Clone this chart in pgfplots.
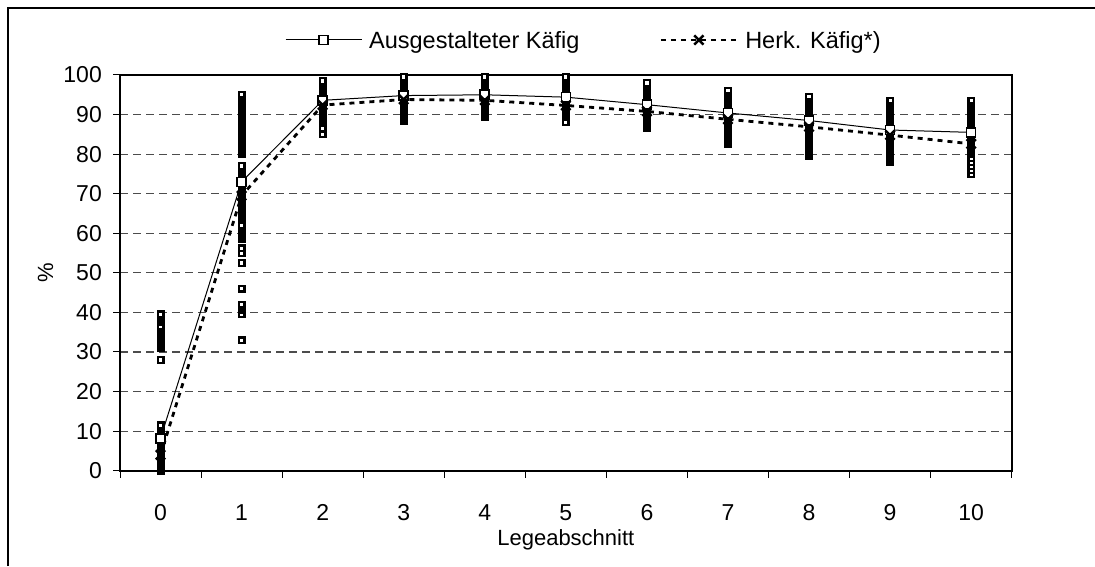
\documentclass[border=0pt]{standalone}
\usepackage{fontspec}
\setmainfont{Liberation Sans}
\usepackage{pgfplots}
\pgfplotsset{compat=1.18}
\newcommand{\chartfont}{\fontsize{22}{26}\selectfont}
\newcommand{\tickfont}{\fontsize{23}{27}\selectfont}
\newcommand{\legendfont}{\fontsize{23.5}{27}\selectfont}
\begin{document}
\begin{tikzpicture}[x=1pt,y=1pt,font=\chartfont]
\useasboundingbox (0,0) rectangle (1095,566);
% outer chart frame
\draw[line width=2pt] (8,0) -- (8,558) -- (1095,558);
\begin{axis}[
  at={(120pt,95.3pt)}, anchor=south west,
  scale only axis, width=891.7pt, height=395.7pt,
  xmin=-0.5, xmax=10.5, ymin=0, ymax=100,
  clip=false,
  axis line style={line width=2.2pt},
  xtick={0,...,10},
  minor xtick={-0.5,0.5,...,10.5},
  major x tick style={draw=none},
  ytick={0,10,...,100},
  xtick pos=bottom, ytick pos=left,
  tick align=outside,
  major tick length=7pt, minor tick length=7pt,
  tick style={black, line width=1pt},
  /pgf/number format/assume math mode=true,
  tick label style={font=\tickfont},
  xticklabel style={anchor=base, inner sep=0pt, yshift=-42.3pt},
  yticklabel style={anchor=east, inner sep=0pt, xshift=-11pt},
  ymajorgrids,
  major grid style={black!70, line width=1.1pt, dash pattern=on 8pt off 5pt},
  xlabel={Legeabschnitt},
  ylabel={\%},
  xlabel style={at={(axis description cs:0.5,-0.1895)}, anchor=base, inner sep=0pt, font=\chartfont},
  ylabel style={at={(axis description cs:-0.0751,0.5)}, anchor=base, inner sep=0pt, font=\chartfont},
  legend columns=2,
  legend style={at={(axis description cs:0.185,1.0885)}, anchor=west,
    draw=none, fill=none, inner sep=0pt, font=\legendfont,
    nodes={inner sep=0pt, text depth=0pt},
    /tikz/every odd column/.append style={column sep=7pt},
    /tikz/every even column/.append style={column sep=80pt}},
  legend image code/.code={\draw[mark repeat=2,mark phase=2,#1] plot coordinates {(0pt,0pt) (38pt,0pt) (76pt,0pt)};},
]
% individual hens per laying period
\addplot[only marks, forget plot, mark=square*, mark size=2.8pt,
  mark options={fill=white, draw=black, line width=2.4pt}] coordinates {
(0,0)(0,0.5)(0,1)(0,1.5)(0,2)(0,2.5)(0,3)(0,3.5)(0,4)(0,4.5)(0,5)(0,5.5)(0,6)(0,6.5)(0,7)(0,7.5)(0,8)(0,8.5)(0,9)(0,9.5)(0,10)(0,10.5)(0,11)(0,11.5)
(0,28)(0,31)(0,31.5)(0,32)(0,32.5)(0,33)(0,33.5)(0,34)(0,34.5)(0,35)(0,35.5)(0,36)(0,36.5)(0,37.6)(0,38)(0,38.5)(0,39)(0,39.5)
(1,33)(1,39.5)(1,40.5)(1,41)(1,41.5)(1,42)(1,46)(1,52.5)(1,55)(1,56.2)(1,58.5)(1,59)(1,59.5)(1,60)(1,60.5)(1,61)(1,61.5)(1,62)
(1,64)(1,64.5)(1,65)(1,65.5)(1,66)(1,66.5)(1,67)(1,67.5)(1,68)(1,68.5)(1,69)(1,69.5)(1,70)(1,70.5)(1,71)(1,71.5)(1,72)(1,72.5)(1,73)(1,73.5)
(1,74.5)(1,75)(1,75.5)(1,76)(1,76.5)(1,77)
(1,80)(1,80.5)(1,81)(1,81.5)(1,82)(1,82.5)(1,83)(1,83.5)(1,84)(1,84.5)(1,85)(1,85.5)(1,86)(1,86.5)(1,87)(1,87.5)(1,88)(1,88.5)(1,89)(1,89.5)(1,90)(1,90.5)(1,91)(1,91.5)(1,92)(1,92.5)(1,93)(1,93.5)(1,94)(1,94.5)(1,95)
(2,85)(2,86.5)(2,88)(2,88.5)(2,89)(2,89.5)(2,90)(2,90.5)(2,91)(2,91.5)(2,92)(2,92.5)(2,93)(2,93.5)(2,94)(2,94.5)(2,95)(2,95.5)(2,96)(2,96.5)(2,97)(2,97.5)(2,98)(2,98.5)
(3,88.3)(3,89)(3,89.5)(3,90)(3,90.5)(3,91)(3,91.5)(3,92)(3,92.5)(3,93)(3,93.5)(3,94)(3,94.5)(3,95)(3,95.5)(3,96)(3,96.5)(3,97)(3,97.5)(3,98)(3,98.5)(3,99)(3,99.5)
(4,89.5)(4,90)(4,90.5)(4,91)(4,91.5)(4,92)(4,92.5)(4,93)(4,93.5)(4,94)(4,94.5)(4,95)(4,95.5)(4,96)(4,96.5)(4,97)(4,97.5)(4,98)(4,98.5)(4,99)(4,99.5)
(5,88)(5,90)(5,90.5)(5,91)(5,91.5)(5,92)(5,92.5)(5,93)(5,93.5)(5,94)(5,94.5)(5,95)(5,95.5)(5,96)(5,96.5)(5,97)(5,97.5)(5,98)(5,98.5)(5,99)(5,99.5)
(6,86.5)(6,87)(6,87.5)(6,88)(6,88.5)(6,89)(6,89.5)(6,90)(6,90.5)(6,91)(6,91.5)(6,92)(6,92.5)(6,93)(6,93.5)(6,94)(6,94.5)(6,95)(6,95.5)(6,96)(6,96.5)(6,97)(6,97.5)(6,98)
(7,82.5)(7,83)(7,83.5)(7,84)(7,84.5)(7,85)(7,85.5)(7,86)(7,86.5)(7,87)(7,87.5)(7,88)(7,88.5)(7,89)(7,89.5)(7,90)(7,90.5)(7,91)(7,91.5)(7,92)(7,92.5)(7,93)(7,93.5)(7,94)(7,94.5)(7,95)(7,95.5)(7,96)
(8,79.5)(8,80)(8,80.5)(8,81)(8,81.5)(8,82)(8,82.5)(8,83)(8,83.5)(8,84)(8,84.5)(8,85)(8,85.5)(8,86)(8,86.5)(8,87)(8,87.5)(8,88)(8,88.5)(8,89)(8,89.5)(8,90)(8,90.5)(8,91)(8,91.5)(8,92)(8,92.5)(8,93)(8,93.5)(8,94)(8,94.5)
(9,78)(9,78.5)(9,79)(9,79.5)(9,80)(9,80.5)(9,81)(9,81.5)(9,82)(9,82.5)(9,83)(9,83.5)(9,84)(9,84.5)(9,85)(9,85.5)(9,86)(9,86.5)(9,87)(9,87.5)(9,88)(9,88.5)(9,89)(9,89.5)(9,90)(9,90.5)(9,91)(9,91.5)(9,92)(9,92.5)(9,93)(9,93.5)
(10,75)(10,76)(10,77)(10,78)(10,79)(10,80)(10,80.5)(10,81)(10,81.5)(10,82)(10,82.5)(10,83)(10,83.5)(10,84)(10,84.5)(10,85)(10,85.5)(10,86)(10,86.5)(10,87)(10,87.5)(10,88)(10,88.5)(10,89)(10,89.5)(10,90)(10,90.5)(10,91)(10,91.5)(10,92)(10,92.5)(10,93)(10,93.5)
};
% group means
\addplot[black, line width=1pt, mark=square*, mark size=4.5pt,
  mark options={fill=white, solid, line width=1.6pt}] coordinates {
(0,8.2)(1,73)(2,93.6)(3,94.8)(4,95.0)(5,94.4)(6,92.5)(7,90.4)(8,88.5)(9,86.1)(10,85.5)
};
\addlegendentry{Ausgestalteter Käfig}
\addplot[black, line width=2.8pt, dash pattern=on 5pt off 5pt, mark=x, mark size=6.5pt,
  mark options={solid, line width=2.5pt}] coordinates {
(0,4)(1,69.5)(2,92.4)(3,93.8)(4,93.6)(5,92.3)(6,90.8)(7,88.8)(8,86.9)(9,84.8)(10,82.6)
};
\addlegendentry{Herk. Käfig*)}
\end{axis}
\end{tikzpicture}
\end{document}
